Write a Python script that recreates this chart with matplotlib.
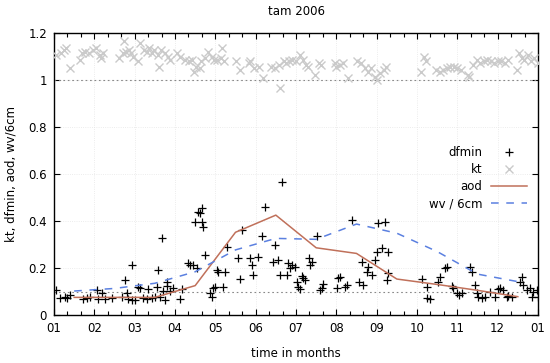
import matplotlib
matplotlib.use("Agg")
import matplotlib.pyplot as plt
from matplotlib.ticker import MultipleLocator, FixedLocator

plt.rcParams['font.family'] = ['DejaVu Sans']

# ---------------- data (x in fractional months since 1 Jan) ----------------
kt_t = [0.04, 0.17, 0.26, 0.30, 0.39, 0.65, 0.70, 0.78, 0.87, 0.96, 1.04, 1.13, 1.17, 1.22,
        1.61, 1.70, 1.74, 1.78, 1.87, 1.91, 1.96, 2.09, 2.13, 2.22, 2.30, 2.35, 2.43, 2.48,
        2.57, 2.61, 2.65, 2.74, 2.83, 2.87, 3.04, 3.13, 3.26, 3.35, 3.43, 3.48, 3.52, 3.61,
        3.65, 3.74, 3.83, 3.91, 3.96, 4.04, 4.13, 4.17, 4.22, 4.52, 4.61, 4.83, 4.87, 4.96,
        5.09, 5.17, 5.39, 5.48, 5.57, 5.61, 5.70, 5.74, 5.83, 5.91, 6.00, 6.09, 6.17, 6.26,
        6.30, 6.48, 6.57, 6.61, 6.96, 7.00, 7.09, 7.17, 7.30, 7.52, 7.61, 7.70, 7.78, 7.87,
        7.96, 8.00, 8.09, 8.17, 8.22, 9.09, 9.17, 9.22, 9.48, 9.57, 9.65, 9.74, 9.83, 9.91,
        10.00, 10.09, 10.26, 10.30, 10.39, 10.48, 10.57, 10.65, 10.74, 10.83, 10.91, 11.00,
        11.09, 11.17, 11.26, 11.48, 11.52, 11.61, 11.65, 11.74, 11.83, 11.91, 12.00]
kt_v = [1.107, 1.114, 1.129, 1.136, 1.050, 1.086, 1.114, 1.121, 1.114, 1.129, 1.136, 1.107, 1.093, 1.114,
        1.093, 1.114, 1.164, 1.121, 1.129, 1.114, 1.100, 1.079, 1.157, 1.129, 1.121, 1.136, 1.114, 1.129,
        1.107, 1.057, 1.129, 1.114, 1.100, 1.086, 1.114, 1.100, 1.086, 1.079, 1.086, 1.036, 1.057, 1.050,
        1.079, 1.093, 1.121, 1.100, 1.086, 1.086, 1.093, 1.136, 1.079, 1.079, 1.043, 1.071, 1.079, 1.050,
        1.057, 1.007, 1.057, 1.050, 1.064, 0.964, 1.079, 1.071, 1.079, 1.086, 1.079, 1.107, 1.086, 1.064,
        1.057, 1.021, 1.071, 1.064, 1.071, 1.057, 1.064, 1.071, 1.007, 1.079, 1.071, 1.050, 1.036, 1.050,
        1.014, 1.000, 1.029, 1.043, 1.057, 1.036, 1.100, 1.079, 1.043, 1.036, 1.043, 1.050, 1.057, 1.057,
        1.050, 1.043, 1.021, 1.014, 1.064, 1.086, 1.071, 1.079, 1.086, 1.079, 1.071, 1.079,
        1.079, 1.071, 1.086, 1.043, 1.114, 1.093, 1.086, 1.107, 1.079, 1.093, 1.071]

dfmin_t = [0.05, 0.15, 0.27, 0.31, 0.40, 0.73, 0.81, 0.89, 1.06, 1.10, 1.18, 1.26, 1.43, 1.68,
           1.76, 1.80, 1.84, 1.93, 1.93, 2.01, 2.09, 2.13, 2.21, 2.30, 2.34, 2.42, 2.50, 2.55,
           2.59, 2.63, 2.67, 2.71, 2.75, 2.79, 2.79, 2.88, 2.96, 3.12, 3.17, 3.33, 3.37, 3.45,
           3.50, 3.54, 3.58, 3.62, 3.66, 3.66, 3.70, 3.74, 3.87, 3.91, 3.95, 3.99, 4.03,
           4.07, 4.20, 4.24, 4.28, 4.57, 4.61, 4.65, 4.86, 4.90, 4.94, 5.07, 5.15, 5.23, 5.44,
           5.48, 5.56, 5.60, 5.65, 5.77, 5.81, 5.85, 5.89, 5.98, 6.02, 6.06, 6.10, 6.14, 6.18,
           6.22, 6.31, 6.35, 6.39, 6.51, 6.60, 6.64, 6.68, 7.01, 7.05, 7.09, 7.22, 7.26, 7.38,
           7.55, 7.63, 7.67, 7.75, 7.79,
           7.88, 7.96, 8.00, 8.04, 8.13, 8.21, 8.29, 8.25, 8.29, 9.12, 9.24, 9.24, 9.32, 9.53,
           9.57, 9.70, 9.74, 9.86, 9.90, 9.98, 10.03, 10.11, 10.31, 10.36, 10.44, 10.48, 10.52,
           10.60, 10.69, 10.81, 10.93, 11.02, 11.06, 11.14, 11.22, 11.26, 11.35, 11.55, 11.60,
           11.64, 11.72, 11.80, 11.84, 11.88, 11.97, 12.00]
dfmin_v = [0.106, 0.074, 0.078, 0.071, 0.085, 0.067, 0.071, 0.075, 0.106, 0.067, 0.095, 0.067, 0.071, 0.078,
           0.149, 0.092, 0.067, 0.213, 0.064, 0.064, 0.118, 0.116, 0.071, 0.067, 0.109, 0.071, 0.078, 0.118,
           0.191, 0.078, 0.326, 0.103, 0.064, 0.142, 0.123, 0.103, 0.113, 0.067, 0.109, 0.220, 0.213, 0.213,
           0.397, 0.199, 0.440, 0.433, 0.454, 0.397, 0.376, 0.255, 0.092, 0.078, 0.113, 0.118, 0.191,
           0.184, 0.120, 0.184, 0.291, 0.241, 0.152, 0.362, 0.241, 0.213, 0.170, 0.248, 0.336, 0.461, 0.227,
           0.298, 0.234, 0.170, 0.565, 0.170, 0.220, 0.199, 0.213, 0.206, 0.142, 0.120, 0.111, 0.166, 0.156,
           0.149, 0.241, 0.213, 0.227, 0.336, 0.106, 0.113, 0.132, 0.113, 0.156, 0.160, 0.120, 0.128, 0.404,
           0.142, 0.227, 0.128, 0.184, 0.206,
           0.170, 0.234, 0.270, 0.390, 0.284, 0.397, 0.270, 0.149, 0.177, 0.152, 0.118, 0.071, 0.067, 0.142,
           0.163, 0.199, 0.206, 0.123, 0.113, 0.092, 0.085, 0.095, 0.206, 0.184, 0.128, 0.092, 0.078,
           0.071, 0.075, 0.099, 0.078, 0.109, 0.113, 0.106, 0.078, 0.081, 0.078, 0.142, 0.160,
           0.128, 0.106, 0.113, 0.075, 0.099, 0.106, 0.078]

month_mid = [0.5, 1.5, 2.5, 3.5, 4.5, 5.5, 6.5, 7.5, 8.5, 9.5, 10.5, 11.5]
aod = [0.075, 0.075, 0.075, 0.125, 0.352, 0.425, 0.286, 0.262, 0.153, 0.130, 0.105, 0.078]
wv6 = [0.102, 0.113, 0.135, 0.184, 0.277, 0.326, 0.322, 0.387, 0.348, 0.270, 0.174, 0.142]

month_labels = ['01', '02', '03', '04', '05', '06', '07', '08', '09', '10', '11', '12', '01']
y_ticks = [0, 0.2, 0.4, 0.6, 0.8, 1, 1.2]
y_tick_labels = ['0', '0.2', '0.4', '0.6', '0.8', '1', '1.2']

# ---------------- figure ----------------
fig = plt.figure(figsize=(5.5, 3.63), dpi=100)
ax = fig.add_axes([54/550, 48/363, 484/550, 282/363])

ax.set_xlim(0, 12)
ax.set_ylim(0, 1.2)

# faint grid
ax.grid(True, which='major', color='#e6e6e6', linestyle=':', linewidth=0.6)
ax.set_axisbelow(True)

# reference lines
ax.axhline(1.0, color='#888888', linestyle=(0, (1.5, 2.5)), linewidth=0.8, zorder=1)
ax.axhline(0.1, color='#888888', linestyle=(0, (1.5, 2.5)), linewidth=0.8, zorder=1)

ax.plot(dfmin_t, dfmin_v, linestyle='none', marker='+', color='black',
        markersize=5.8, markeredgewidth=0.9, label='dfmin', zorder=4)
ax.plot(kt_t, kt_v, linestyle='none', marker='x', color='#cacaca',
        markersize=5.3, markeredgewidth=1.0, label='kt', zorder=3)
ax.plot(month_mid, aod, color='#c0705a', linewidth=1.1, label='aod', zorder=5)
ax.plot(month_mid, wv6, color='#5b80e0', linewidth=1.1, linestyle=(0, (5, 5)),
        label='wv / 6cm', zorder=5)

# ticks
ax.xaxis.set_major_locator(FixedLocator(list(range(13))))
ax.set_xticklabels(month_labels)
ax.xaxis.set_minor_locator(MultipleLocator(1/3))
ax.set_yticks(y_ticks)
ax.set_yticklabels(y_tick_labels)
ax.tick_params(axis='both', which='both', direction='in', top=True, right=True,
               labelsize=8.5, width=0.8, colors='black')
ax.tick_params(axis='both', which='major', length=4, pad=5)
ax.tick_params(axis='x', which='minor', length=3)
for s in ax.spines.values():
    s.set_linewidth(1.0)

ax.set_xlabel('time in months', fontsize=8.5, labelpad=9)
ax.set_ylabel('kt, dfmin, aod, wv/6cm', fontsize=8.5, labelpad=8)
ax.set_title('tam 2006', fontsize=8.5, pad=13)

leg = ax.legend(loc='upper right', bbox_to_anchor=(0.977, 0.6), frameon=False,
                markerfirst=False, fontsize=8.5, handlelength=3.0, handletextpad=0.8,
                labelspacing=0.35, borderpad=0, borderaxespad=0)

fig.savefig('out.png', dpi=100)
